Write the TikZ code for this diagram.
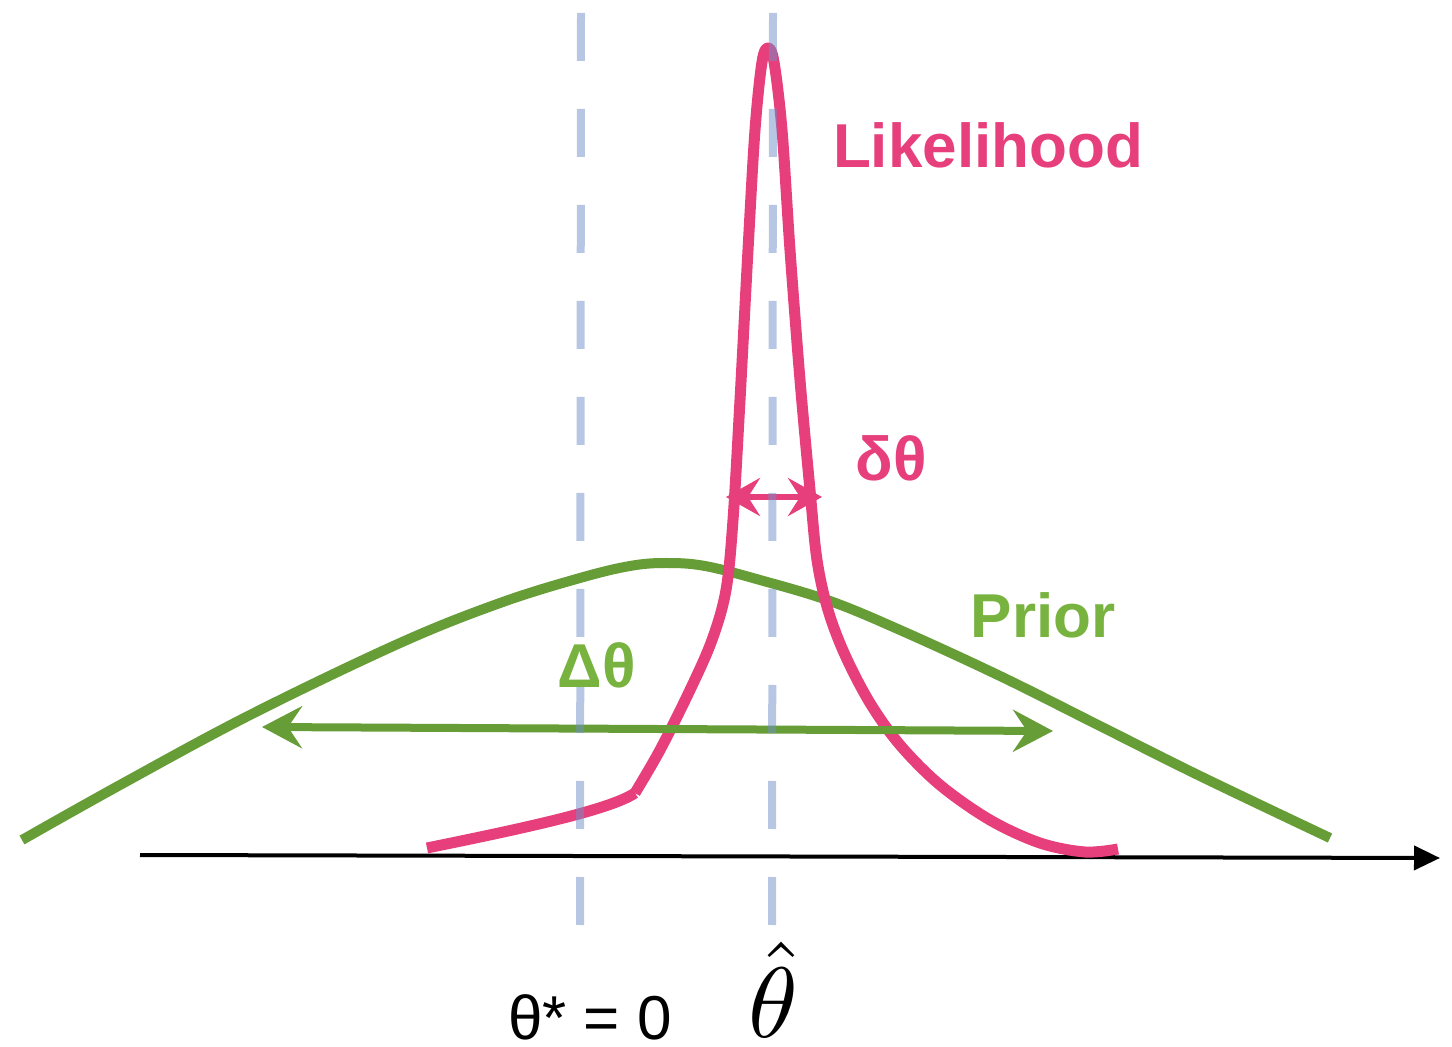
\documentclass[tikz,border=0pt]{standalone}
\usepackage{fontspec}
\setsansfont{Liberation Sans}
\usetikzlibrary{arrows.meta}
\definecolor{pinkc}{HTML}{E73F7B}
\definecolor{greenc}{HTML}{679D37}
\definecolor{greent}{HTML}{78B340}
\definecolor{bluec}{HTML}{7090C8}
\tikzset{
  lbl/.style={font=\sffamily\bfseries\fontsize{31pt}{36pt}\selectfont, inner sep=0pt},
  dashln/.style={bluec, opacity=0.5, line width=4pt, dash pattern=on 24pt off 24pt},
  pinkcurve/.style={pinkc, line width=5.5pt, line join=round},
  greencurve/.style={greenc, line width=5pt},
}
\begin{document}
\begin{tikzpicture}[x=0.5pt,y=-0.5pt]
\useasboundingbox (0,0) rectangle (1452,1047);
% prior
\draw[greencurve] plot[smooth, tension=0.6] coordinates {(22,840) (120,785) (250,715) (400,643) (500,603) (580,578) (630,566) (666,563) (705,566) (760,580) (830,601) (900,630) (1000,676) (1100,726) (1200,776) (1330,838)};
% axis
\coordinate (ax0) at (140,855);
\coordinate (ax1) at (1440,858);
\draw[line width=2pt, -{Stealth[length=13pt,width=12pt,inset=0pt]}] (ax0) -- (ax1);
% likelihood
\draw[pinkcurve] (427,848) .. controls (520,829) and (610,810) .. (635,793)
  plot[smooth, tension=0.55] coordinates {(635,793) (660,750) (690,690) (712,640) (726,590) (733,520) (740,400) (748,250) (755,130) (762,62) (768,48) (774,62) (782,130) (790,250) (800,380) (810,490) (817,560) (828,610) (845,655) (870,703) (900,745) (940,785) (990,820) (1040,843) (1085,852) (1118,849)};
% arrows
\coordinate (d0) at (726,497);
\coordinate (d1) at (822,497);
\draw[pinkc, line width=3pt, {Stealth[length=17pt,width=19pt,inset=6pt]}-{Stealth[length=17pt,width=19pt,inset=6pt]}] (d0) -- (d1);
\coordinate (D0) at (262,727);
\coordinate (D1) at (1053,731);
\draw[greenc, line width=4pt, {Stealth[length=20pt,width=21pt,inset=7pt]}-{Stealth[length=20pt,width=21pt,inset=7pt]}] (D0) -- (D1);
% dashed lines
\coordinate (v0a) at (581,13);
\coordinate (v0b) at (580,925);
\coordinate (v1a) at (773,13);
\coordinate (v1b) at (772,925);
\draw[dashln] (v0a) -- (v0b);
\draw[dashln] (v1a) -- (v1b);
% labels
\node[lbl, pinkc] (lik) at (988,145) {Likelihood};
\node[lbl, pinkc] (dt) at (891,458) {δθ};
\node[lbl, greent] (pr) at (1043,615) {Prior};
\node[lbl, greent] (Dt) at (597,665) {Δθ};
\node[font=\sffamily\fontsize{31pt}{36pt}\selectfont, inner sep=0pt] (ts) at (590,1017) {θ* = 0};
\node[scale=5, inner sep=0pt] (th) at (773,990) {$\hat{\theta}$};
\end{tikzpicture}
\end{document}
